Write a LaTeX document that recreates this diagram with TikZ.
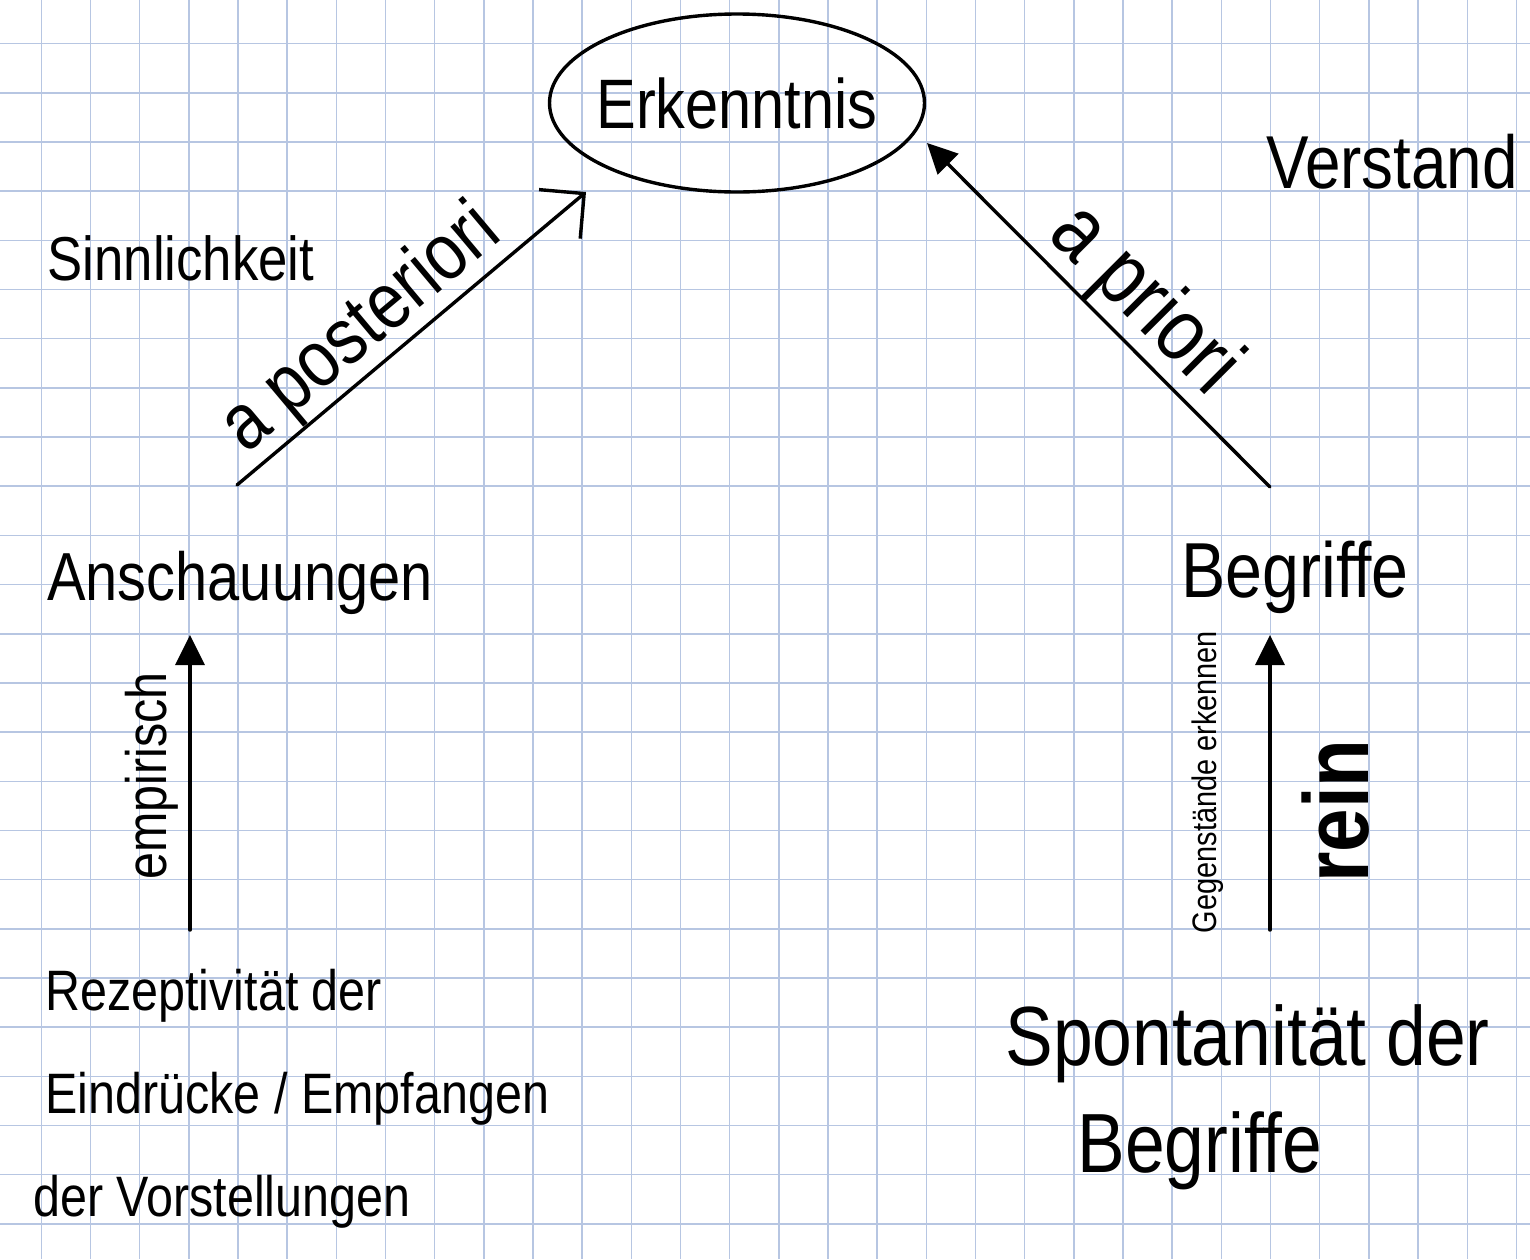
\documentclass[tikz,border=0pt]{standalone}
\usepackage{fontspec}
\newfontfamily\hand[FakeStretch=0.85]{Liberation Sans}
\usetikzlibrary{shapes.geometric,arrows.meta}
\definecolor{gridblue}{RGB}{183,198,226}
\tikzset{
  gridline/.style={draw=gridblue, line width=0.75pt},
  ink/.style={draw=black, line width=1.7pt, line cap=round},
  hw/.style={inner sep=0pt, text=black},
  fat/.style={ink, -{Triangle[length=15pt,width=14.5pt]}},
  barb/.style={ink, -{Straight Barb[length=16pt,width=32pt,line width=1.7pt]}},
}
\newcommand{\hsz}[2]{\hand\fontsize{#1}{#2}\selectfont}
\begin{document}
\begin{tikzpicture}[x=0.5pt,y=-0.5pt]
  \useasboundingbox (0,0) rectangle (1530,1259);
  \fill[white] (0,0) rectangle (1530,1259);
  % grid paper
  \foreach \i in {0,...,30} {
    \draw[gridline] ({41.3+49.17*\i},0) -- ({41.3+49.17*\i},1259);
  }
  \foreach \j in {0,...,24} {
    \draw[gridline] (0,{43.7+49.17*\j}) -- (1530,{43.7+49.17*\j});
  }

  % main nodes
  \node[ellipse, ink, minimum width=187.5pt, minimum height=89pt, inner sep=0pt,
        font=\hsz{35}{40}] (erk) at (737,103) {\makebox[0pt]{Erkenntnis}};
  \node[hw, anchor=base, font=\hsz{37.5}{42}] (verst) at (1392,188) {Verstand};
  \node[hw, anchor=base, font=\hsz{31}{36}] (sinn) at (181,280) {Sinnlichkeit};
  \node[hw, anchor=base, font=\hsz{34}{40}] (ansch) at (240,600) {Anschauungen};
  \node[hw, anchor=base, font=\hsz{39}{45}] (begr) at (1295,597) {Begriffe};
  \node[hw, anchor=base west, align=left, font=\hsz{28.5}{51.5}] (rezept) at (45,1216)
    {Rezeptivität der\\Eindrücke / Empfangen\\\hspace*{-6pt}der Vorstellungen};
  \node[hw, anchor=base west, align=left, font=\hsz{42}{53.5}] (spont) at (1005,1172)
    {Spontanität der\\\hspace*{36pt}Begriffe};

  % connector end points
  \coordinate (pA) at (237,485);
  \coordinate (pB) at (586,192);
  \coordinate (pC) at (1270,487);
  \coordinate (pD) at (927,143);
  \coordinate (qA) at (190,930);
  \coordinate (qB) at (190,635);
  \coordinate (rA) at (1270,930);
  \coordinate (rB) at (1270,635);

  % connectors
  \draw[barb] (pA) -- (pB);
  \draw[fat] (pC) -- (pD);
  \draw[fat] (qA) -- (qB);
  \draw[fat] (rA) -- (rB);

  % connector labels
  \node[hw, rotate=40, anchor=base, font=\hsz{40}{46}] (apost) at (375,346) {a posteriori};
  \node[hw, rotate=-45, anchor=base, font=\hsz{44}{50}] (apri) at (1127,317) {a priori};
  \node[hw, rotate=90, anchor=base, font=\hsz{28.5}{33}] (emp) at (166,776) {empirisch};
  \node[hw, rotate=90, anchor=base, font=\hsz{17}{20}] (gegen) at (1216,782) {Gegenstände erkennen};
  \node[hw, rotate=90, anchor=base, font=\hsz{46}{52}\bfseries] (rein) at (1368,811) {rein};
\end{tikzpicture}
\end{document}
